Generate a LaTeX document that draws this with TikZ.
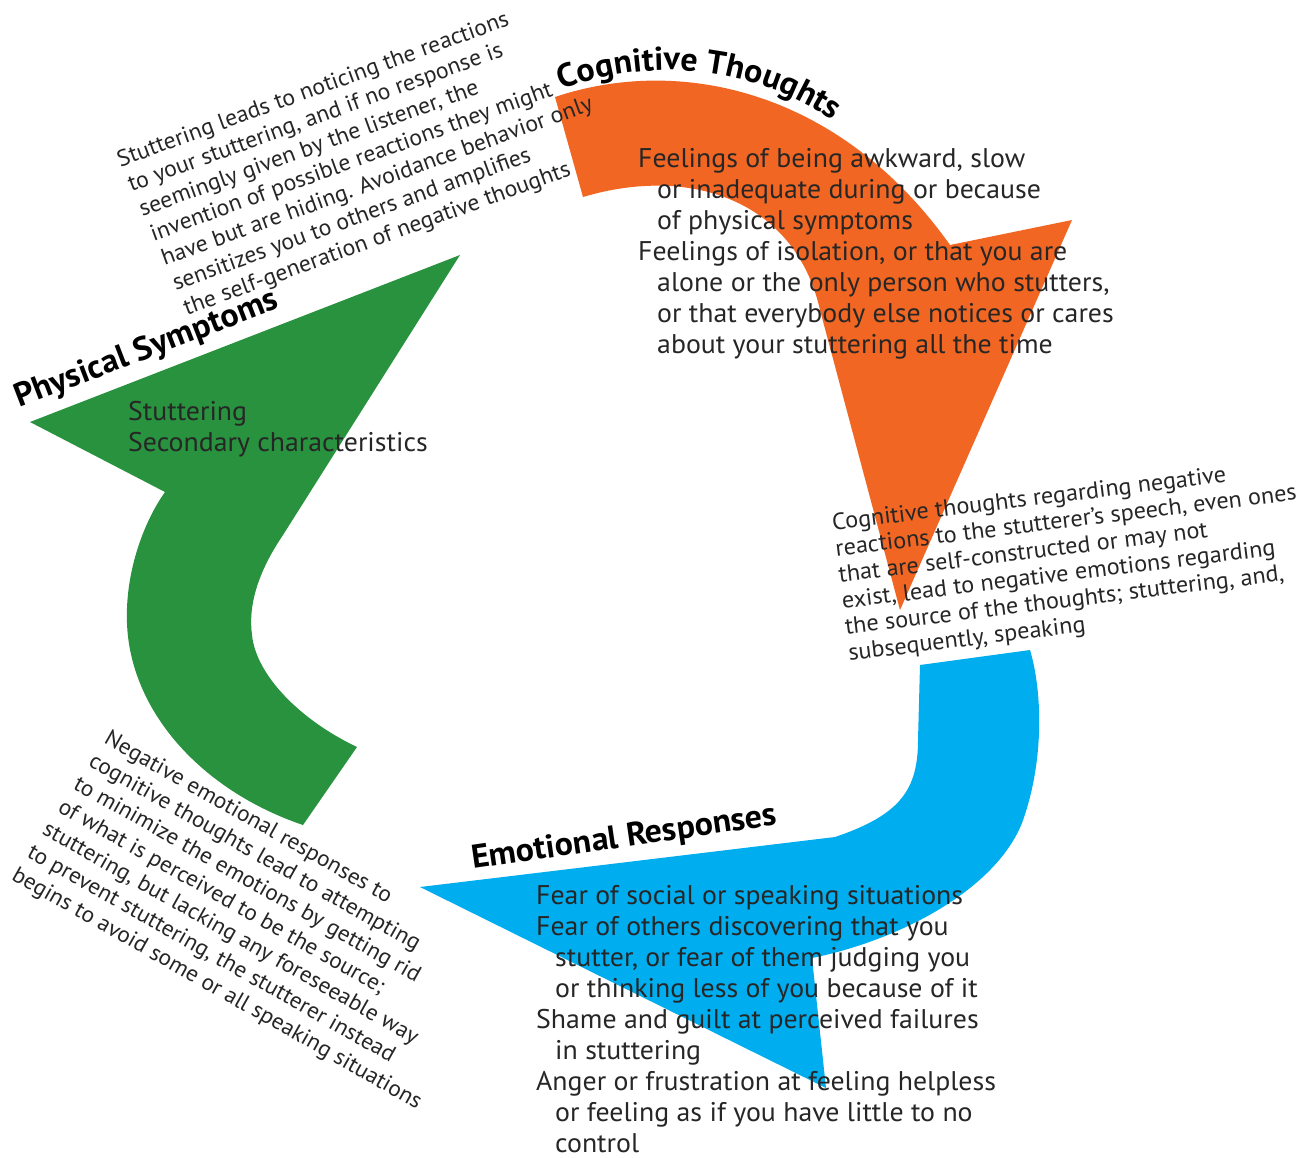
\documentclass[tikz,border=0pt]{standalone}
\usepackage{fontspec}
\setmainfont{PT Sans}[FakeStretch=1.03]
\usetikzlibrary{decorations.text}
\definecolor{corange}{RGB}{241,102,34}
\definecolor{cgreen}{RGB}{40,146,62}
\definecolor{cblue}{RGB}{0,173,238}
\definecolor{ctext}{RGB}{38,38,38}
\begin{document}
\begin{tikzpicture}[x=1pt,y=-1pt,
  listtext/.style={anchor=north west, inner sep=0pt, align=left, text=ctext, font=\fontsize{27}{31}\selectfont},
  paratext/.style={anchor=north west, inner sep=0pt, align=left, text=ctext, font=\fontsize{23}{27}\selectfont},
  heading/.style={inner sep=0pt, anchor=base west, text=black, font=\fontsize{33}{33}\bfseries\selectfont}
]
\useasboundingbox (0,0) rectangle (1297,1157);
\fill[white] (0,0) rectangle (1297,1157);

% orange arrow (Cognitive Thoughts)
\fill[corange] (555,97) .. controls (680,55) and (840,90) .. (950,245) -- (1072,220) -- (900,610)
  -- (820,310) .. controls (795,200) and (690,165) .. (583,197) -- cycle;
% blue arrow (Emotional Responses)
\fill[cblue] (920,665) -- (1030,650) .. controls (1042,690) and (1045,760) .. (1022,823)
  .. controls (995,890) and (900,940) .. (812,958) -- (826,1088) -- (420,887) -- (835,837)
  .. controls (900,815) and (918,790) .. (918,740) -- cycle;
% green arrow (Physical Symptoms)
\fill[cgreen] (460,255) -- (283,535) .. controls (258,572) and (248,605) .. (252,635)
  .. controls (256,675) and (300,720) .. (357,747) -- (303,825)
  .. controls (200,790) and (130,710) .. (127,623) .. controls (125,570) and (145,520) .. (165,492)
  -- (30,422) -- cycle;

% headings
\path[decorate, decoration={text along path, text align=left,
  text format delimiters={|}{|},
  text={|\fontsize{33}{33}\bfseries\selectfont|Cognitive Thoughts}}]
  (562,90) .. controls (650,55) and (790,55) .. (900,180);
\node[heading, rotate=21] (phys) at (19,408) {Physical Symptoms};
\node[heading, rotate=8.3] (emo) at (473,869) {Emotional Responses};

% lists
\node[listtext] (cogl) at (638,145.3) {\strut Feelings of being awkward, slow\\
\hspace*{19pt}or inadequate during or because\\
\hspace*{19pt}of physical symptoms\\
Feelings of isolation, or that you are\\
\hspace*{19pt}alone or the only person who stutters,\\
\hspace*{19pt}or that everybody else notices or cares\\
\hspace*{19pt}about your stuttering all the time};
\node[listtext] (physl) at (128,398.3) {\strut Stuttering\\Secondary characteristics};
\node[listtext] (emol) at (536,882.3) {\strut Fear of social or speaking situations\\
Fear of others discovering that you\\
\hspace*{19pt}stutter, or fear of them judging you\\
\hspace*{19pt}or thinking less of you because of it\\
Shame and guilt at perceived failures\\
\hspace*{19pt}in stuttering\\
Anger or frustration at feeling helpless\\
\hspace*{19pt}or feeling as if you have little to no\\
\hspace*{19pt}control};

% rotated paragraphs
\begin{scope}[shift={(120,167)}, rotate=20, transform shape]
\node[paratext] (p1) at (0,-18.9) {\strut Stuttering leads to noticing the reactions\\
\hspace*{2pt}to your stuttering, and if no response is\\
\hspace*{4pt}seemingly given by the listener, the\\
\hspace*{6pt}invention of possible reactions they might\\
\hspace*{8pt}have but are hiding. Avoidance behavior only\\
\hspace*{10pt}sensitizes you to others and amplifies\\
\hspace*{12pt}the self-generation of negative thoughts};
\end{scope}
\begin{scope}[shift={(833,530)}, rotate=7, transform shape]
\node[paratext, font=\fontsize{23.5}{26.3}\selectfont] (p2) at (0,-18.41) {\strut Cognitive thoughts regarding negative\\
reactions to the stutterer's speech, even ones\\
that are self-constructed or may not\\
exist, lead to negative emotions regarding\\
the source of the thoughts; stuttering, and,\\
subsequently, speaking};
\end{scope}
\begin{scope}[shift={(91.5,736)}, rotate=-29.5, transform shape]
\node[paratext, font=\fontsize{22.6}{27.4}\selectfont] (p3) at (0,-19.18) {\strut\hspace*{13.2pt}Negative emotional responses to\\
\hspace*{11pt}cognitive thoughts lead to attempting\\
\hspace*{8.8pt}to minimize the emotions by getting rid\\
\hspace*{6.6pt}of what is perceived to be the source;\\
\hspace*{4.4pt}stuttering, but lacking any foreseeable way\\
\hspace*{2.2pt}to prevent stuttering, the stutterer instead\\
begins to avoid some or all speaking situations};
\end{scope}
\end{tikzpicture}
\end{document}
